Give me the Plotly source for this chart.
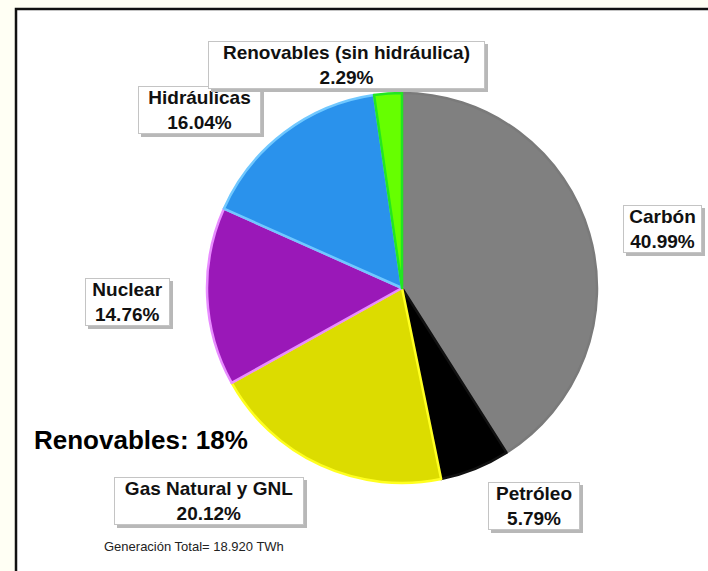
import plotly.graph_objects as go

W, H = 708, 571

# Data
labels = ["Carbón", "Petróleo", "Gas Natural y GNL", "Nuclear", "Hidráulicas", "Renovables (sin hidráulica)"]
values = [40.99, 5.79, 20.12, 14.76, 16.04, 2.29]
colors = ["#808080", "#000000", "#dcdc00", "#9a18b8", "#2a92ec", "#66ff00"]
line_colors = ["#7a7a7a", "#111111", "#ffff20", "#e88cff", "#70c8ff", "#22e622"]
# label box centre (px) and box width (px)
label_boxes = [(662, 229, 79), (534, 506, 92), (209, 501, 190), (127, 302, 85), (199, 110, 123), (346, 65, 277)]

fig = go.Figure()
cx, cy, R = 402, 288, 195
fig.add_trace(go.Pie(
    labels=labels, values=values, sort=False, direction="clockwise", rotation=0,
    textinfo="none", hoverinfo="label+percent", showlegend=False,
    marker=dict(colors=colors, line=dict(color=line_colors, width=2.5)),
    domain=dict(x=[(cx - R) / W, (cx + R) / W], y=[1 - (cy + R) / H, 1 - (cy - R) / H]),
))

def px(x, y):
    return x / W, 1 - y / H

shapes = [
    dict(type="rect", xref="paper", yref="paper", x0=16 / W, x1=760 / W, y0=-0.05, y1=1 - 9 / H,
         line=dict(color="#111111", width=2.5), fillcolor="white", layer="below"),
]

FONT = "Liberation Sans"
FS = 19
annotations = []
for lab, val, (x, y, bw) in zip(labels, values, label_boxes):
    text = f"<b>{lab}<br>{val:.2f}%</b>"
    xx, yy = px(x, y)
    # drop shadow box
    annotations.append(dict(text="&nbsp;<br>&nbsp;", x=xx, y=yy, xref="paper", yref="paper", showarrow=False,
                            xanchor="center", yanchor="middle", xshift=3, yshift=-3, width=bw - 2,
                            font=dict(family=FONT, size=FS, color="rgba(0,0,0,0)"),
                            bgcolor="#b8b8b8", bordercolor="#b8b8b8", borderwidth=1, borderpad=0))
    annotations.append(dict(text=text, x=xx, y=yy, xref="paper", yref="paper", showarrow=False,
                            xanchor="center", yanchor="middle", width=bw - 2,
                            font=dict(family=FONT, size=FS, color="#111111"),
                            bgcolor="white", bordercolor="#c4c4c4", borderwidth=1, borderpad=0))

x, y = px(32, 440)
annotations.append(dict(text="<b>Renovables: 18%</b>", x=x, y=y, xref="paper", yref="paper",
                        showarrow=False, xanchor="left", yanchor="middle",
                        font=dict(family=FONT, size=26, color="#000000")))
x, y = px(102, 546)
annotations.append(dict(text="Generación Total= 18.920 TWh", x=x, y=y, xref="paper", yref="paper",
                        showarrow=False, xanchor="left", yanchor="middle",
                        font=dict(family=FONT, size=13, color="#222222")))

fig.update_layout(width=W, height=H, margin=dict(l=0, r=0, t=0, b=0),
                  paper_bgcolor="#fffff4", plot_bgcolor="white",
                  shapes=shapes, annotations=annotations)
fig.write_html("out.html")
